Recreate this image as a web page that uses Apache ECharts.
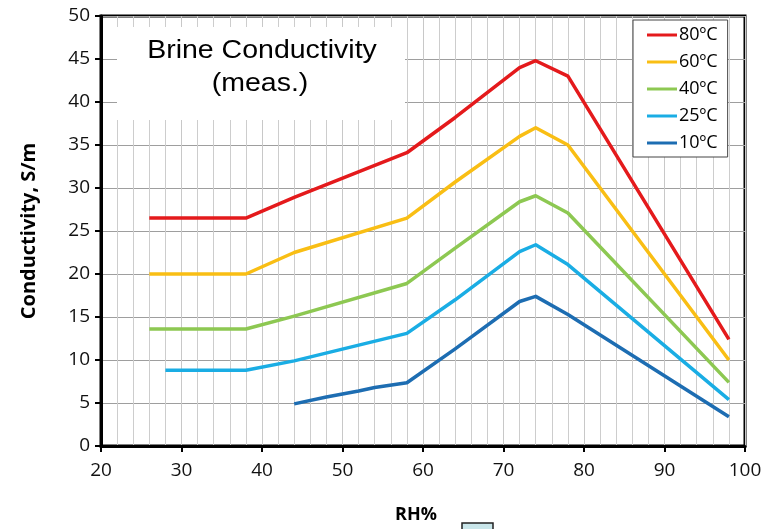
<!DOCTYPE html>
<html><head><meta charset="utf-8">
<script src="https://cdn.jsdelivr.net/npm/echarts@6/dist/echarts.min.js"></script>
<style>html,body{margin:0;padding:0;background:#fff}#c{width:776px;height:529px}</style>
</head><body><div id="c"></div>
<script>
// Data
const seriesNames = ['80ºC', '60ºC', '40ºC', '25ºC', '10ºC'];
const rh80 = [26, 38, 44, 58, 64, 72, 74, 78, 98];
const cond80 = [26.5, 26.5, 28.9, 34.1, 38.2, 44.0, 44.8, 43.0, 12.4];
const rh60 = [26, 38, 44, 58, 64, 72, 74, 78, 98];
const cond60 = [20.0, 20.0, 22.5, 26.5, 30.7, 36.0, 37.0, 35.0, 10.0];
const rh40 = [26, 38, 44, 58, 64, 72, 74, 78, 98];
const cond40 = [13.6, 13.6, 15.1, 18.9, 23.0, 28.4, 29.1, 27.1, 7.4];
const rh25 = [28, 38, 44, 58, 64, 72, 74, 78, 98];
const cond25 = [8.8, 8.8, 9.9, 13.1, 17.0, 22.6, 23.4, 21.1, 5.4];
const rh10 = [44, 48, 52, 54, 58, 64, 72, 74, 78, 98];
const cond10 = [4.9, 5.7, 6.4, 6.8, 7.35, 11.3, 16.8, 17.4, 15.3, 3.4];
const xTicks = [20, 30, 40, 50, 60, 70, 80, 90, 100];
const yTicks = [0, 5, 10, 15, 20, 25, 30, 35, 40, 45, 50];

const colors = ['#E41A1C', '#F9BE14', '#8DC852', '#1AADE4', '#1D6DB2'];
const xs = [rh80, rh60, rh40, rh25, rh10];
const ys = [cond80, cond60, cond40, cond25, cond10];

const chart = echarts.init(document.getElementById('c'));
const tickFont = 'Open Sans';
chart.setOption({
  animation: false,
  backgroundColor: '#fff',
  grid: { left: 101, right: 31, top: 16, bottom: 80, show: true, borderColor: '#000', borderWidth: 3, backgroundColor: 'transparent' },
  legend: {
    orient: 'vertical', left: 633, top: 20, width: 104,
    padding: [6, 10, 5, 14], itemGap: 9,
    backgroundColor: '#fff', borderColor: '#444', borderWidth: 1,
    itemWidth: 30, itemHeight: 3, icon: 'rect',
    textStyle: { fontFamily: tickFont, fontSize: 18, color: '#000', lineHeight: 18, padding: [0, 0, 0, -3] },
    data: seriesNames
  },
  xAxis: {
    type: 'value', min: xTicks[0], max: xTicks[xTicks.length - 1], interval: 10,
    name: 'RH%', nameLocation: 'middle', nameGap: 60,
    nameTextStyle: { fontFamily: tickFont, fontWeight: 'bold', fontSize: 18, color: '#000', padding: [0, 14, 0, 0] },
    axisLine: { show: true, onZero: false, lineStyle: { color: '#000', width: 3 } },
    axisTick: { show: true, inside: false, length: 6, lineStyle: { color: '#000', width: 2 } },
    axisLabel: { fontFamily: tickFont, fontSize: 19, color: '#111', margin: 15 },
    splitLine: { show: true, lineStyle: { color: '#c8c8c8', width: 1 } },
    minorTick: { show: false, splitNumber: 5 },
    minorSplitLine: { show: true, lineStyle: { color: '#cdcdcd', width: 1 } }
  },
  yAxis: {
    type: 'value', min: yTicks[0], max: yTicks[yTicks.length - 1], interval: 5,
    name: 'Conductivity, S/m', nameLocation: 'middle', nameGap: 62, nameRotate: 90,
    nameTextStyle: { fontFamily: tickFont, fontWeight: 'bold', fontSize: 20, color: '#000' },
    axisLine: { show: true, onZero: false, lineStyle: { color: '#000', width: 3 } },
    axisTick: { show: true, inside: false, length: 6, lineStyle: { color: '#000', width: 2 } },
    axisLabel: { fontFamily: tickFont, fontSize: 19, color: '#111', margin: 11 },
    splitLine: { show: true, lineStyle: { color: '#9e9e9e', width: 1.2 } }
  },
  series: seriesNames.map((n, i) => ({
    name: n, type: 'line', showSymbol: false, symbol: 'none', color: colors[i],
    lineStyle: { width: 3.5, color: colors[i], join: 'round' },
    data: xs[i].map((x, j) => [x, ys[i][j]]),
    z: 10 - i
  })),
  graphic: [
    { type: 'rect', z: 50, shape: { x: 117, y: 27, width: 288, height: 93 }, style: { fill: '#fff' } },
    { type: 'text', z: 51, x: 262, y: 51, scaleX: 1.14, style: { text: 'Brine Conductivity', x: 0, y: 0, align: 'center', verticalAlign: 'middle', fontFamily: 'Liberation Sans', fontSize: 25, fill: '#000' } },
    { type: 'text', z: 51, x: 260, y: 84, scaleX: 1.14, style: { text: '(meas.)', x: 0, y: 0, align: 'center', verticalAlign: 'middle', fontFamily: 'Liberation Sans', fontSize: 25, fill: '#000' } },
    { type: 'rect', z: 51, shape: { x: 462, y: 523, width: 31, height: 12 }, style: { fill: '#c9e6ea', stroke: '#222', lineWidth: 1.5 } }
  ]
});
</script></body></html>
